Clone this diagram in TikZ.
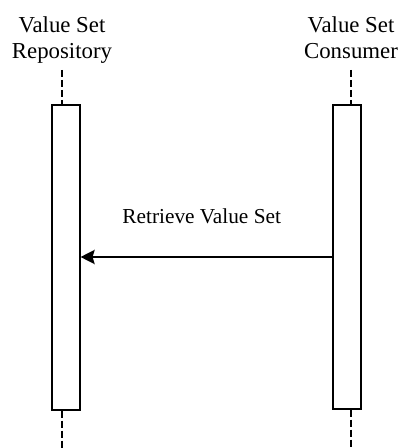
\documentclass[tikz,border=0pt]{standalone}
\usepackage{fontspec}
\setmainfont{Liberation Serif}
\usetikzlibrary{arrows.meta}
\begin{document}
\begin{tikzpicture}[x=1pt,y=1pt,
  header/.style={align=center,inner sep=0pt,anchor=north,font=\fontsize{22.8}{26.4}\selectfont},
  actbox/.style={draw=black,line width=1.1pt,fill=white,minimum width=28pt,inner sep=0pt},
  lifeline/.style={line width=2.2pt,dash pattern=on 7pt off 3pt},
  msg/.style={line width=2.6pt,-{Stealth[length=14pt,width=14pt,inset=2pt]}},
  msglabel/.style={inner sep=0pt,anchor=base,font=\fontsize{21.3}{25}\selectfont}]
\useasboundingbox (0,0) rectangle (401,448);
% headers
\node[header] (hrepo) at (62,431.6) {Value Set\\Repository};
\node[header] (hcons) at (351,431.6) {Value Set\\Consumer};
% activation boxes
\node[actbox,minimum height=305pt] (repo) at (66,190.5) {};
\node[actbox,minimum height=304pt] (cons) at (347,191) {};
% lifelines
\coordinate (rtop) at (62.3,378);
\coordinate (rbot) at (62.3,0);
\coordinate (ctop) at (350.7,378);
\coordinate (cbot) at (350.7,0);
\draw[lifeline] (rtop) -- (rtop |- repo.north);
\draw[lifeline] (rtop |- repo.south) -- (rbot);
\draw[lifeline] (ctop) -- (ctop |- cons.north);
\draw[lifeline] (ctop |- cons.south) -- (cbot);
% message
\coordinate (my) at (0,191);
\draw[msg] (cons.west |- my) -- (repo.east |- my);
\node[msglabel] (lbl) at (201.7,224) {Retrieve Value Set};
\end{tikzpicture}
\end{document}
